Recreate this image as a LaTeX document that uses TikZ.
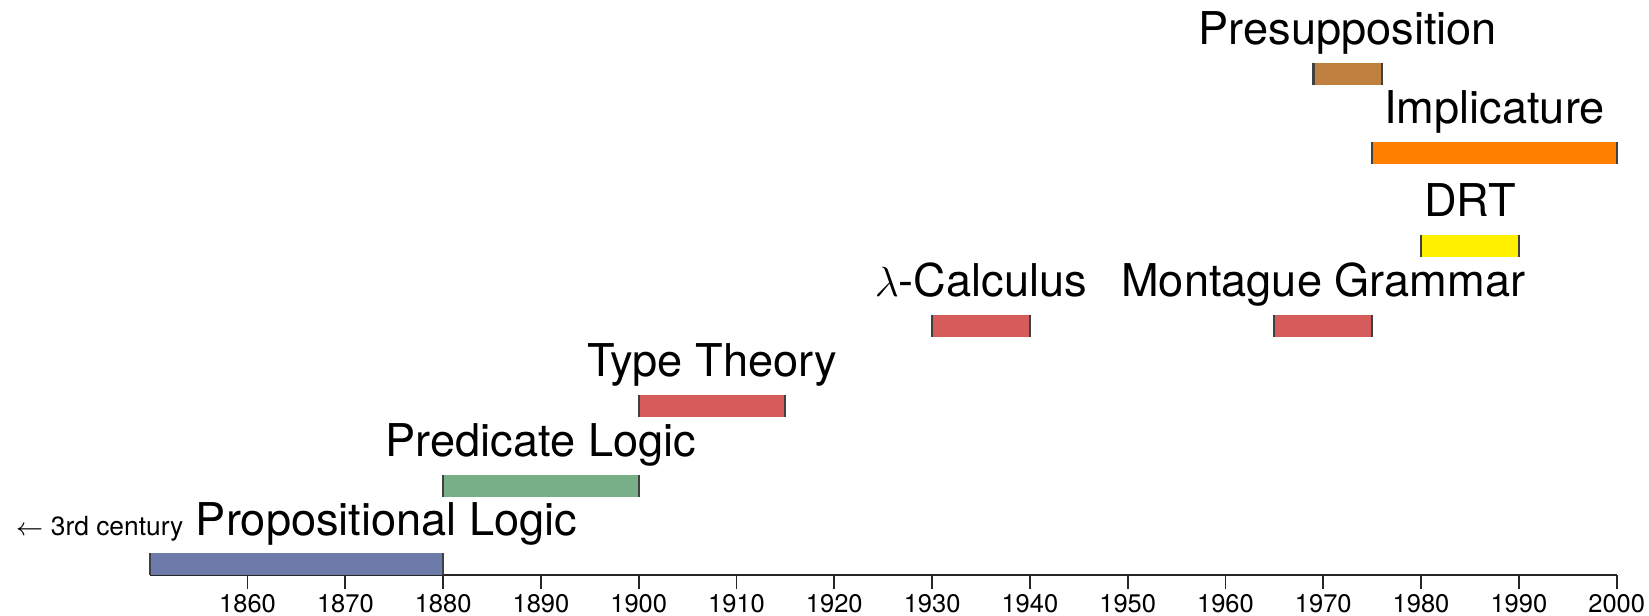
\documentclass[tikz,border=0pt]{standalone}
\usepackage{fontspec}
\setmainfont{TeX Gyre Heros}
\usetikzlibrary{positioning}

\definecolor{propblue}{RGB}{108,123,170}
\definecolor{predgreen}{RGB}{120,175,134}
\definecolor{typered}{RGB}{214,92,92}
\definecolor{drtyellow}{RGB}{255,240,0}
\definecolor{implorange}{RGB}{255,128,0}
\definecolor{presbrown}{RGB}{192,128,64}

\tikzset{
    lbl/.style={anchor=base, inner sep=0pt, font=\fontsize{12.85}{15}\selectfont},
    yearlbl/.style={anchor=base, inner sep=0pt, font=\fontsize{7.25}{9}\selectfont},
    endmark/.style={draw=black!75, line width=0.6pt},
    axisline/.style={draw=black!85, line width=0.5pt}
}

\begin{document}
\begin{tikzpicture}

    \useasboundingbox (0,0) rectangle (16.49,6.15);

    % =================================================================
    % TIME AXIS (one unit = one year)
    % =================================================================
    \begin{scope}[x=0.0978cm, xshift=-179.42cm]
        \def\A{0.40}   % height of the axis
        \def\H{0.22}   % height of a bar

        \draw[axisline] (1850,\A) -- (2000,\A);
        \foreach \yr in {1860,1870,...,2000} {
            \draw[axisline] (\yr,\A) -- (\yr,\A-0.135);
            \node[yearlbl] (y\yr) at (\yr,0.025) {\yr};
        }

        % =================================================================
        % PERIODS: start/end/bottom/colour/name/label
        % =================================================================
        \foreach \from/\to/\base/\col/\nm/\txt in {
            1850/1880/0.40/propblue/prop/{{\fontsize{7.5}{9}\selectfont$\leftarrow$ 3rd century} Propositional Logic},
            1880/1900/1.18/predgreen/pred/{Predicate Logic},
            1900/1915/1.98/typered/type/{Type Theory},
            1930/1940/2.78/typered/lambda/{$\lambda$-Calculus},
            1965/1975/2.78/typered/montague/{Montague Grammar},
            1980/1990/3.58/drtyellow/drt/{DRT},
            1975/2000/4.51/implorange/impl/{Implicature},
            1969/1976/5.30/presbrown/presup/{Presupposition}%
        } {
            \fill[\col] (\from,\base) rectangle (\to,\base+\H);
            \draw[endmark] (\from,\base) -- (\from,\base+\H)
                           (\to,\base) -- (\to,\base+\H);
            \node[lbl] (\nm) at ({(\from+\to)/2},\base+\H+0.18) {\txt};
        }
    \end{scope}

\end{tikzpicture}
\end{document}
